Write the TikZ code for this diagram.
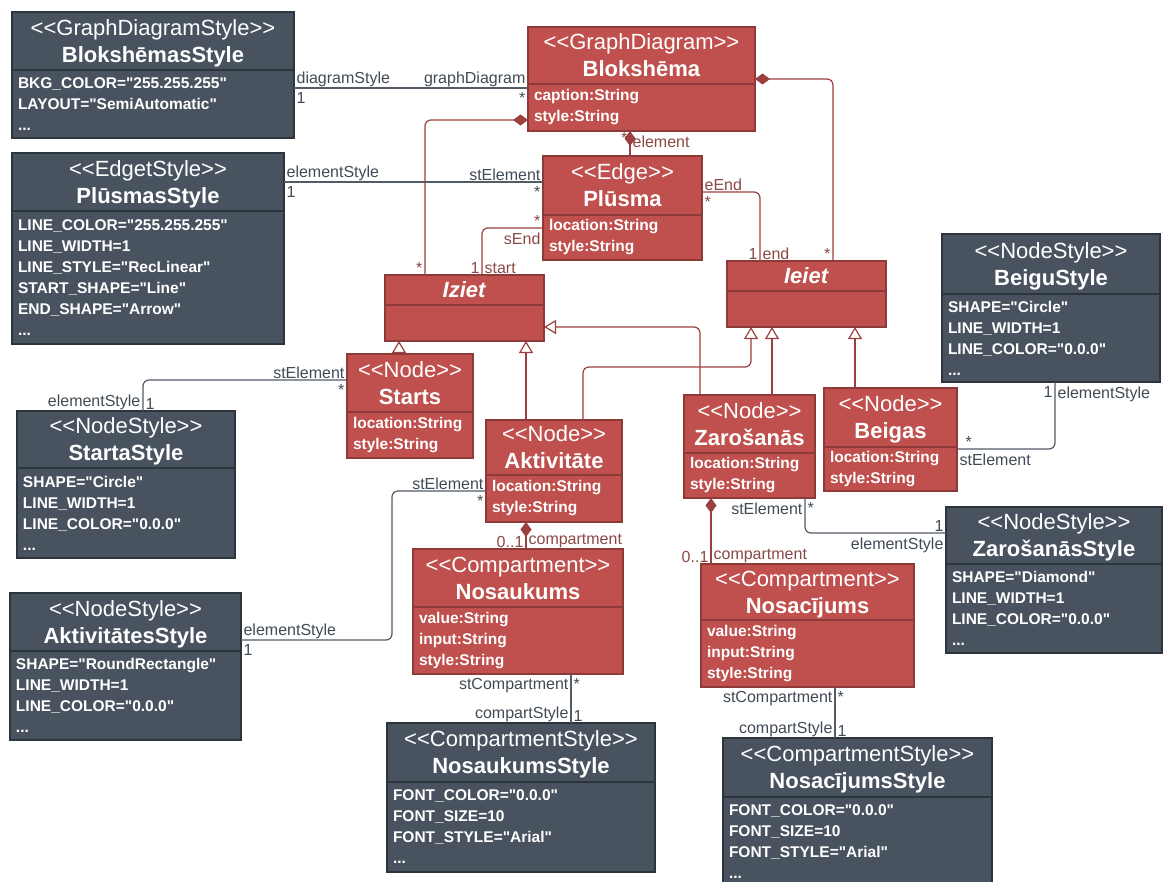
\documentclass[tikz,border=0pt]{standalone}
\usepackage{fontspec}
\setmainfont{Liberation Sans}[Ligatures=TeXOff]
\usetikzlibrary{arrows.meta, positioning}
\definecolor{sarkansKlase}{HTML}{C0504D}
\definecolor{sarkansMala}{HTML}{8E3A38}
\definecolor{tumssKlase}{HTML}{48535F}
\definecolor{tumssMala}{HTML}{2C343D}
\colorlet{kolSark}{sarkansKlase}
\colorlet{malaSark}{sarkansMala}
\colorlet{kolTums}{tumssKlase}
\colorlet{malaTums}{tumssMala}
\colorlet{linijaTums}{tumssKlase!95!white}
\colorlet{linijaSark}{sarkansKlase!80!black}
\colorlet{tekstsTums}{tumssKlase!90!black}
\colorlet{tekstsSark}{sarkansMala!80!gray}
\tikzset{
  galvaBase/.style={
    line width=1.5pt, outer sep=0pt, inner sep=2pt, text depth=0pt,
    align=center, text=white, font=\fontsize{22}{27}\selectfont
  },
  galvaSark/.style={galvaBase, draw=malaSark, fill=kolSark},
  galvaTums/.style={galvaBase, draw=malaTums, fill=kolTums},
  saturBase/.style={
    line width=1.5pt, outer sep=0pt, inner xsep=6pt, inner ysep=3pt,
    align=left, text=white, font=\fontsize{15.5}{21}\selectfont\bfseries
  },
  saturSark/.style={saturBase, draw=malaSark, fill=kolSark},
  saturTums/.style={saturBase, draw=malaTums, fill=kolTums},
  saite/.style={draw=linijaTums, line width=1.2pt, rounded corners=6pt},
  saiteSark/.style={saite, draw=linijaSark},
  kompozicija/.style={saiteSark, -{Diamond[length=15pt, width=11pt]}},
  mantosana/.style={saiteSark, -{Triangle[length=12pt, width=14pt, fill=white]}},
  etikete/.style={font=\fontsize{16}{19}\selectfont, text=tekstsTums, inner xsep=2pt, inner ysep=1pt},
  sark/.style={text=tekstsSark},
  virsL/.style={etikete, above left},
  virsR/.style={etikete, above right},
  zemL/.style={etikete, below left, yshift=-3pt},
  zemR/.style={etikete, below right, yshift=-3pt},
}
\begin{document}
\begin{tikzpicture}[x=1pt, y=-1pt]
  \useasboundingbox[fill=white] (0,0) rectangle (1164,881);
  % stila klases
  \node[galvaTums, minimum width=282pt, minimum height=58pt, anchor=north west] (bstyle) at (12,12) {<<GraphDiagramStyle>>\\\textbf{BlokshēmasStyle}};
  \node[saturTums, text width=270pt, minimum height=68pt, below=0pt of bstyle] (bstyle-s) {BKG\_COLOR="255.255.255"\\LAYOUT="SemiAutomatic"\\...};
  \node[galvaTums, minimum width=272pt, minimum height=58pt, anchor=north west] (pstyle) at (12,153) {<<EdgetStyle>>\\\textbf{PlūsmasStyle}};
  \node[saturTums, text width=260pt, minimum height=133pt, below=0pt of pstyle] (pstyle-s) {LINE\_COLOR="255.255.255"\\LINE\_WIDTH=1\\LINE\_STYLE="RecLinear"\\START\_SHAPE="Line"\\END\_SHAPE="Arrow"\\...};
  \node[galvaTums, minimum width=218pt, minimum height=60pt, anchor=north west] (bgstyle) at (942,234) {<<NodeStyle>>\\\textbf{BeiguStyle}};
  \node[saturTums, text width=206pt, minimum height=88pt, below=0pt of bgstyle] (bgstyle-s) {SHAPE="Circle"\\LINE\_WIDTH=1\\LINE\_COLOR="0.0.0"\\...};
  \node[galvaTums, minimum width=218pt, minimum height=57pt, anchor=north west] (ststyle) at (17,411) {<<NodeStyle>>\\\textbf{StartaStyle}};
  \node[saturTums, text width=206pt, minimum height=90pt, below=0pt of ststyle] (ststyle-s) {SHAPE="Circle"\\LINE\_WIDTH=1\\LINE\_COLOR="0.0.0"\\...};
  \node[galvaTums, minimum width=231pt, minimum height=58pt, anchor=north west] (akstyle) at (10,593) {<<NodeStyle>>\\\textbf{AktivitātesStyle}};
  \node[saturTums, text width=219pt, minimum height=89pt, below=0pt of akstyle] (akstyle-s) {SHAPE="RoundRectangle"\\LINE\_WIDTH=1\\LINE\_COLOR="0.0.0"\\...};
  \node[galvaTums, minimum width=216pt, minimum height=57pt, anchor=north west] (zarstyle) at (946,507) {<<NodeStyle>>\\\textbf{ZarošanāsStyle}};
  \node[saturTums, text width=204pt, minimum height=89pt, below=0pt of zarstyle] (zarstyle-s) {SHAPE="Diamond"\\LINE\_WIDTH=1\\LINE\_COLOR="0.0.0"\\...};
  \node[galvaTums, minimum width=268pt, minimum height=59pt, anchor=north west] (nsstyle) at (387,723) {<<CompartmentStyle>>\\\textbf{NosaukumsStyle}};
  \node[saturTums, text width=256pt, minimum height=90pt, below=0pt of nsstyle] (nsstyle-s) {FONT\_COLOR="0.0.0"\\FONT\_SIZE=10\\FONT\_STYLE="Arial"\\...};
  \node[galvaTums, minimum width=269pt, minimum height=59pt, anchor=north west] (ncstyle) at (723,738) {<<CompartmentStyle>>\\\textbf{NosacījumsStyle}};
  \node[saturTums, text width=257pt, minimum height=90pt, below=0pt of ncstyle] (ncstyle-s) {FONT\_COLOR="0.0.0"\\FONT\_SIZE=10\\FONT\_STYLE="Arial"\\...};
  % metamodela klases
  \node[galvaSark, minimum width=227pt, minimum height=57pt, anchor=north west] (blok) at (528,27) {<<GraphDiagram>>\\\textbf{Blokshēma}};
  \node[saturSark, text width=215pt, minimum height=47pt, below=0pt of blok] (blok-s) {caption:String\\style:String};
  \node[galvaSark, minimum width=159pt, minimum height=59pt, anchor=north west] (plus) at (543,156) {<<Edge>>\\\textbf{Plūsma}};
  \node[saturSark, text width=147pt, minimum height=45pt, below=0pt of plus] (plus-s) {location:String\\style:String};
  \node[galvaSark, minimum width=159pt, minimum height=30pt, anchor=north west] (iziet) at (385,275) {\textbf{\textit{Iziet}}};
  \node[saturSark, text width=147pt, minimum height=36pt, below=0pt of iziet] (iziet-s) {};
  \node[galvaSark, minimum width=159pt, minimum height=30pt, anchor=north west] (ieiet) at (727,261) {\textbf{\textit{Ieiet}}};
  \node[saturSark, text width=147pt, minimum height=36pt, below=0pt of ieiet] (ieiet-s) {};
  \node[galvaSark, minimum width=126pt, minimum height=58pt, anchor=north west] (starts) at (347,354) {<<Node>>\\\textbf{Starts}};
  \node[saturSark, text width=114pt, minimum height=46pt, below=0pt of starts] (starts-s) {location:String\\style:String};
  \node[galvaSark, minimum width=136pt, minimum height=55pt, anchor=north west] (aktiv) at (486,420) {<<Node>>\\\textbf{Aktivitāte}};
  \node[saturSark, text width=124pt, minimum height=47pt, below=0pt of aktiv] (aktiv-s) {location:String\\style:String};
  \node[galvaSark, minimum width=131pt, minimum height=58pt, anchor=north west] (zar) at (684,395) {<<Node>>\\\textbf{Zarošanās}};
  \node[saturSark, text width=119pt, minimum height=45pt, below=0pt of zar] (zar-s) {location:String\\style:String};
  \node[galvaSark, minimum width=133pt, minimum height=59pt, anchor=north west] (beigas) at (824,388) {<<Node>>\\\textbf{Beigas}};
  \node[saturSark, text width=121pt, minimum height=44pt, below=0pt of beigas] (beigas-s) {location:String\\style:String};
  \node[galvaSark, minimum width=210pt, minimum height=58pt, anchor=north west] (nosauk) at (413,549) {<<Compartment>>\\\textbf{Nosaukums}};
  \node[saturSark, text width=198pt, minimum height=67pt, below=0pt of nosauk] (nosauk-s) {value:String\\input:String\\style:String};
  \node[galvaSark, minimum width=213pt, minimum height=56pt, anchor=north west] (nosac) at (701,564) {<<Compartment>>\\\textbf{Nosacījums}};
  \node[saturSark, text width=201pt, minimum height=67pt, below=0pt of nosac] (nosac-s) {value:String\\input:String\\style:String};
  % saites
  \draw[saite] (bstyle-s.east |- 0,88) node[virsR] {diagramStyle} node[zemR] {1}
    -- (blok-s.west |- 0,88) node[virsL] {graphDiagram} node[zemL] {*};
  \draw[saite] (pstyle.east |- 0,182) node[virsR] {elementStyle} node[zemR] {1}
    -- (plus.west |- 0,182) node[virsL] {stElement} node[zemL] {*};
  \draw[kompozicija] (iziet.north -| 425,0) node[virsL, sark] {*} |- (blok-s.west |- 0,120);
  \draw[kompozicija] (plus.north -| 630,0) -- (blok-s.south -| 630,0)
    node[zemL, sark, yshift=3pt] {*} node[zemR, sark] {element};
  \draw[kompozicija] (ieiet.north -| 833,0) node[virsL, sark] {*} |- (blok.east |- 0,79);
  \draw[saiteSark] (plus-s.west |- 0,228) node[virsL, sark] {*} node[zemL, sark] {sEnd}
    -| (iziet.north -| 482,0) node[virsL, sark] {1} node[virsR, sark] {start};
  \draw[saiteSark] (plus.east |- 0,192) node[virsR, sark] {eEnd} node[zemR, sark] {*}
    -| (ieiet.north -| 760,0) node[virsL, sark] {1} node[virsR, sark] {end};
  % mantošana
  \draw[mantosana] (starts.north -| 399,0) -- (iziet-s.south -| 399,0);
  \draw[mantosana] (aktiv.north -| 526,0) -- (iziet-s.south -| 526,0);
  \draw[mantosana] (zar.north -| 700,0) |- (iziet-s.east |- 0,327);
  \draw[mantosana] (aktiv.north -| 583,0) -- ++(0,-53) -| (ieiet-s.south -| 751,0);
  \draw[mantosana] (zar.north -| 772,0) -- (ieiet-s.south -| 772,0);
  \draw[mantosana] (beigas.north -| 855,0) -- (ieiet-s.south -| 855,0);
  % elementu stili
  \draw[saite] (starts.west |- 0,380) node[virsL] {stElement} node[zemL] {*}
    -| (ststyle.north -| 143,0) node[virsL] {elementStyle} node[virsR] {1};
  \draw[saite] (aktiv-s.west |- 0,491) node[virsL] {stElement} node[zemL] {*}
    -- ++(-94,0) |- (akstyle.east |- 0,640) node[virsR] {elementStyle} node[zemR] {1};
  \draw[kompozicija] (nosauk.north -| 526,0) node[virsL, sark] {0..1} node[virsR, sark] {compartment}
    -- (aktiv-s.south -| 526,0);
  \draw[kompozicija] (nosac.north -| 711,0) node[virsL, sark] {0..1} node[virsR, sark] {compartment}
    -- (zar-s.south -| 711,0);
  \draw[saite] (zar-s.south -| 805,0) node[zemL] {stElement} node[zemR] {*}
    |- (zarstyle.west |- 0,533) node[virsL] {1} node[zemL] {elementStyle};
  \draw[saite] (beigas-s.east |- 0,449) node[virsR, xshift=6pt] {*} node[zemR] {stElement}
    -| (bgstyle-s.south -| 1055,0) node[zemL] {1} node[zemR] {elementStyle};
  \draw[saite] (nosauk-s.south -| 571,0) node[zemL] {stCompartment} node[zemR] {*}
    -- (nsstyle.north -| 571,0) node[virsL] {compartStyle} node[virsR] {1};
  \draw[saite] (nosac-s.south -| 835,0) node[zemL] {stCompartment} node[zemR] {*}
    -- (ncstyle.north -| 835,0) node[virsL] {compartStyle} node[virsR] {1};
\end{tikzpicture}
\end{document}
